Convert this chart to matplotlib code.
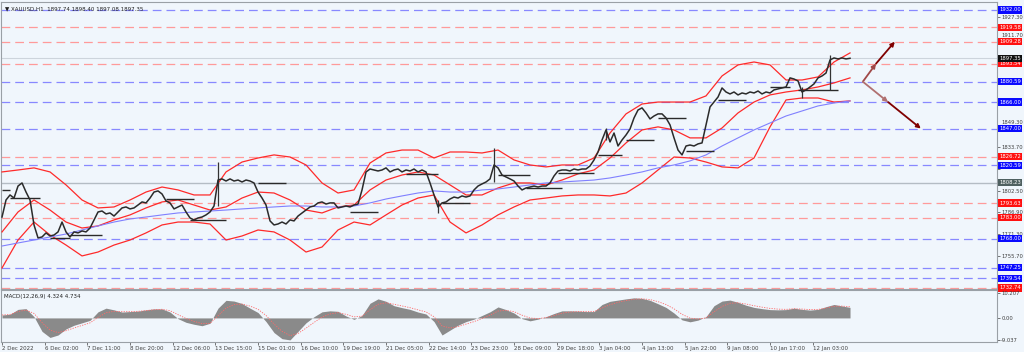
import numpy as np
import pandas as pd
import matplotlib
matplotlib.use('Agg')
import matplotlib.pyplot as plt
from matplotlib.transforms import blended_transform_factory

# closes, one value about every 3 H1 bars
close = [1783.6, 1795.8, 1799.4, 1797.2, 1805.8, 1808.0, 1801.5, 1795.8, 1777.9, 1768.6,
         1769.3, 1772.2, 1770.0, 1770.7, 1772.9, 1780.0, 1772.9, 1769.3, 1772.9, 1772.2,
         1773.6, 1772.9, 1775.7, 1781.5, 1787.2, 1787.9, 1785.8, 1786.5, 1784.3, 1787.2,
         1790.1, 1790.8, 1789.4, 1790.1, 1792.2, 1794.4, 1793.7, 1797.2, 1801.5, 1802.3,
         1800.1, 1795.1, 1793.7, 1789.4, 1790.8, 1792.2, 1787.2, 1782.9, 1781.5, 1782.9,
         1783.6, 1785.1, 1787.2, 1791.5, 1810.1, 1810.9, 1809.4, 1810.9, 1809.4, 1810.1,
         1808.7, 1810.1, 1809.4, 1808.0, 1801.5, 1797.2, 1792.2, 1780.8, 1777.9, 1778.6,
         1780.0, 1778.6, 1781.5, 1780.8, 1784.3, 1786.5, 1788.6, 1790.8, 1791.5, 1793.7,
         1794.4, 1792.9, 1793.7, 1793.7, 1790.1, 1790.8, 1791.5, 1790.8, 1792.2, 1792.9,
         1803.0, 1815.9, 1818.0, 1817.3, 1816.6, 1817.3, 1818.8, 1815.9, 1817.3, 1818.0,
         1815.9, 1817.3, 1816.6, 1818.0, 1815.9, 1817.3, 1815.9, 1808.0, 1799.4, 1790.8,
         1793.7, 1794.4, 1796.5, 1797.9, 1797.2, 1798.7, 1797.9, 1798.7, 1803.0, 1805.8,
         1807.3, 1808.7, 1810.9, 1820.9, 1818.8, 1813.7, 1812.3, 1810.9, 1809.4, 1805.8,
         1803.0, 1804.4, 1805.1, 1805.8, 1805.1, 1805.8, 1805.8, 1808.0, 1813.0, 1816.6,
         1817.3, 1817.3, 1816.6, 1818.0, 1817.3, 1818.0, 1818.0, 1820.2, 1824.5, 1830.2,
         1838.8, 1846.0, 1837.4, 1843.8, 1834.5, 1838.8, 1842.4, 1846.7, 1854.6, 1860.3,
         1861.8, 1858.2, 1853.9, 1856.0, 1857.5, 1857.5, 1854.6, 1849.6, 1840.3, 1831.6,
         1828.1, 1834.5, 1835.2, 1834.5, 1836.0, 1836.7, 1849.6, 1862.5, 1866.0, 1869.6,
         1876.1, 1873.2, 1871.8, 1873.2, 1871.1, 1872.5, 1871.8, 1873.2, 1872.5, 1873.9,
         1871.8, 1873.2, 1872.5, 1874.7, 1875.4, 1876.1, 1876.8, 1883.3, 1882.5, 1881.1,
         1873.2, 1874.7, 1876.8, 1879.0, 1883.3, 1884.7, 1886.8, 1896.2, 1897.6, 1896.9,
         1897.6, 1896.9, 1897.35]

# long candle wicks
wick_idx = [54, 109, 123, 151, 200, 207]
wick_lo = [1791.5, 1786.5, 1808.7, 1838.8, 1868.9, 1874.7]
wick_hi = [1823.0, 1796.0, 1833.1, 1847.4, 1876.8, 1899.7]

# bollinger bands and slow MA, one value every 4 closes
bb_upper = [1815.9, 1817.3, 1818.8, 1815.9, 1806.6, 1795.8, 1790.1, 1790.8, 1795.8, 1801.5,
            1805.1, 1803.0, 1799.4, 1799.4, 1815.9, 1823.0, 1825.9, 1828.1, 1826.6, 1820.9,
            1808.0, 1800.8, 1803.0, 1822.3, 1829.5, 1831.6, 1831.6, 1825.9, 1830.2, 1830.2,
            1829.5, 1831.6, 1824.5, 1820.9, 1819.5, 1820.9, 1820.9, 1825.9, 1843.8, 1857.5,
            1864.6, 1866.0, 1866.0, 1866.0, 1870.4, 1884.7, 1892.6, 1894.7, 1892.6, 1881.8,
            1881.8, 1884.0, 1894.7, 1901.2]
bb_mid = [1772.9, 1787.2, 1795.8, 1788.6, 1780.0, 1775.7, 1777.2, 1781.5, 1785.1, 1790.1,
          1794.4, 1795.8, 1792.2, 1788.6, 1790.8, 1797.2, 1801.5, 1800.8, 1795.8, 1788.6,
          1786.5, 1790.8, 1792.2, 1803.0, 1810.1, 1813.7, 1815.9, 1813.7, 1806.6, 1799.4,
          1799.4, 1804.4, 1808.0, 1808.0, 1806.6, 1810.1, 1814.5, 1817.3, 1825.9, 1836.7,
          1846.0, 1848.2, 1846.0, 1840.3, 1840.3, 1847.4, 1858.2, 1866.0, 1871.1, 1873.2,
          1874.7, 1876.8, 1879.7, 1883.3]
bb_lower = [1747.1, 1767.1, 1780.0, 1770.7, 1763.5, 1755.7, 1758.5, 1763.5, 1767.1, 1772.2,
            1777.9, 1780.0, 1780.0, 1778.6, 1767.1, 1770.0, 1774.3, 1772.9, 1767.1, 1758.5,
            1762.1, 1774.3, 1780.0, 1777.9, 1785.1, 1792.2, 1797.2, 1799.4, 1780.0, 1772.2,
            1777.9, 1785.1, 1790.8, 1795.8, 1797.2, 1798.7, 1799.4, 1799.4, 1798.7, 1800.8,
            1808.0, 1817.3, 1826.6, 1825.9, 1823.0, 1819.5, 1818.8, 1825.9, 1848.2, 1867.5,
            1868.9, 1868.9, 1866.0, 1866.8]
ma_slow = [1762.8, 1765.0, 1767.1, 1769.3, 1771.4, 1774.3, 1777.2, 1780.0, 1782.2, 1783.6,
           1785.1, 1786.5, 1787.2, 1787.9, 1788.6, 1789.4, 1790.1, 1790.8, 1791.5, 1791.5,
           1790.8, 1790.8, 1791.5, 1793.7, 1796.5, 1798.7, 1800.8, 1802.3, 1801.5, 1801.5,
           1803.0, 1803.7, 1805.1, 1806.6, 1808.0, 1808.7, 1809.4, 1810.1, 1811.6, 1813.7,
           1815.9, 1818.8, 1820.9, 1823.8, 1828.1, 1834.5, 1840.3, 1846.0, 1851.0, 1856.0,
           1859.6, 1863.2, 1865.3, 1866.8]

# support / resistance segments (start, end in close index)
seg_start = [0, 2, 12, 17, 41, 47, 64, 87, 101, 110, 124, 131, 139, 149, 156, 164, 171, 179, 192, 199]
seg_end = [2, 9.5, 17, 25, 48, 56, 71, 94, 109, 117, 132, 140, 148, 155, 163, 171, 178, 186, 197, 209]
seg_price = [1803.0, 1797.2, 1768.6, 1770.7, 1796.5, 1781.5, 1808.0, 1787.2, 1814.5, 1793.7,
             1813.7, 1804.4, 1815.2, 1828.1, 1838.8, 1854.6, 1830.9, 1867.5, 1876.8, 1874.7]

# MACD main, one value every 2 closes
macd = [1.2, 1.5, 3.5, 3.8, 0.5, -5.5, -8.0, -7.0, -4.5, -3.0,
        -2.0, -1.0, 2.5, 4.0, 3.3, 2.4, 2.6, 2.8, 3.3, 3.7,
        3.7, 2.4, -0.3, -1.8, -2.6, -3.2, -2.2, 4.0, 7.2, 6.9,
        5.9, 4.0, 2.2, -1.5, -6.0, -8.5, -9.0, -5.5, -2.0, 0.5,
        2.5, 2.9, 2.7, 0.8, -0.6, 1.0, 6.0, 7.8, 6.8, 5.0,
        4.2, 3.5, 2.4, 1.6, -1.5, -7.0, -5.0, -3.0, -1.5, -0.5,
        1.0, 2.5, 4.5, 3.4, 2.0, -0.3, -1.2, -0.5, 0.5, 1.8,
        2.9, 2.9, 2.8, 2.6, 2.6, 5.5, 6.8, 7.3, 7.8, 8.2,
        8.0, 7.2, 5.8, 4.3, 2.0, -0.8, -1.6, -0.9, 0.5, 5.0,
        6.9, 7.3, 6.4, 5.2, 4.3, 3.8, 3.4, 3.3, 3.4, 4.0,
        3.5, 3.2, 3.5, 4.6, 5.5, 4.9, 4.3]

blue_levels = [1932.00, 1880.59, 1866.00, 1847.00, 1820.59, 1768.00, 1747.25, 1739.54]
red_levels = [1919.58, 1909.28, 1893.54, 1826.72, 1793.63, 1783.00, 1732.74]
pivot_level = 1808.23
last_price = 1897.35
scale_ticks = [1927.30, 1911.70, 1896.10, 1880.50, 1864.90, 1849.30, 1833.70, 1818.10,
               1802.50, 1786.90, 1771.30, 1755.70, 1740.10]
# scale labels hidden behind the level boxes in the terminal
hidden_ticks = [1896.10, 1880.50, 1864.90, 1818.10, 1740.10]
# scale labels that sit just above a level box
raised_ticks = ['1911.70', '1849.30']

time_labels = ['2 Dec 2022', '6 Dec 02:00', '7 Dec 11:00', '8 Dec 20:00', '12 Dec 06:00',
               '13 Dec 15:00', '15 Dec 01:00', '16 Dec 10:00', '19 Dec 19:00', '21 Dec 05:00',
               '22 Dec 14:00', '23 Dec 23:00', '28 Dec 09:00', '29 Dec 18:00', '3 Jan 04:00',
               '4 Jan 13:00', '5 Jan 22:00', '9 Jan 08:00', '10 Jan 17:00', '12 Jan 03:00']

# projected paths (close index, price)
arrow_x0 = [215.2, 218.5, 215.2, 221.5]
arrow_p0 = [1880.59, 1893.54, 1880.59, 1866.00]
arrow_x1 = [218.5, 223.2, 221.5, 229.7]
arrow_p1 = [1893.54, 1909.28, 1866.00, 1847.00]
arrow_col = ['#a04848', '#800000', '#b07070', '#800000']

BG = '#f0f6fc'
BARS_PER_LABEL = 33 / 3.094   # one close every ~3.1 H1 bars

fig = plt.figure(figsize=(10.24, 3.52), dpi=100, facecolor=BG)
ax = fig.add_axes([0.001, 63 / 352, 996 / 1024, 287 / 352], facecolor=BG)
ax2 = fig.add_axes([0.001, 10 / 352, 996 / 1024, 52 / 352], facecolor=BG, sharex=ax)

x = np.arange(len(close))
xb = np.arange(len(bb_upper)) * 4
xm = np.arange(len(macd)) * 2

for lv in blue_levels:
    ax.axhline(lv, color='#8888ff', lw=0.9, ls=(0, (7, 4)), zorder=1)
for lv in red_levels:
    ax.axhline(lv, color='#ff9a9a', lw=0.9, ls=(0, (7, 4)), zorder=1)
ax.axhline(pivot_level, color='#b4bcc4', lw=1.0, zorder=1)
ax.axhline(last_price, color='#cdd4dc', lw=0.8, zorder=1)

ax.plot(xb, bb_upper, color='#ff2a2a', lw=0.9, zorder=3)
ax.plot(xb, bb_mid, color='#ff2a2a', lw=0.9, zorder=3)
ax.plot(xb, bb_lower, color='#ff2a2a', lw=0.9, zorder=3)
ax.plot(xb, ma_slow, color='#8080ff', lw=0.8, zorder=3)

ax.hlines(seg_price, seg_start, seg_end, color='#2a2a2a', lw=1.0, zorder=4)
ax.vlines(wick_idx, wick_lo, wick_hi, color='#333333', lw=0.9, zorder=4)
ax.plot(x, close, color='#2b2b2b', lw=1.1, zorder=5)

for i in range(len(arrow_x0)):
    ax.annotate('', xy=(arrow_x1[i], arrow_p1[i]), xytext=(arrow_x0[i], arrow_p0[i]),
                arrowprops=dict(arrowstyle='-|>', color=arrow_col[i], lw=1.3,
                                mutation_scale=6, shrinkA=0, shrinkB=0), zorder=6)

ax.set_xlim(-0.25, 248.75)
ax.set_ylim(1732.0, 1937.7)
ax.yaxis.tick_right()
ax.set_yticks(scale_ticks)
ax.set_yticklabels(['' if v in hidden_ticks else f'{v:.2f}' for v in scale_ticks])
ax.tick_params(axis='y', labelsize=3.8, colors='#404040', length=2, width=0.5, pad=1)
ax.tick_params(axis='x', bottom=False, labelbottom=False)
for lbl in ax.get_yticklabels():
    if lbl.get_text() in raised_ticks:
        lbl.set_verticalalignment('bottom')
for s in ax.spines.values():
    s.set_color('#9aa0a6')
    s.set_linewidth(0.8)

trans = blended_transform_factory(ax.transAxes, ax.transData)


def price_box(p, fc):
    ax.text(1.0025, p, f'{p:.2f}', transform=trans, fontsize=3.8, color='white',
            ha='left', va='center', clip_on=False, zorder=10,
            bbox=dict(boxstyle='square,pad=0.2', fc=fc, ec='none'))


for lv in blue_levels:
    price_box(lv, '#0a0aff')
for lv in red_levels:
    price_box(lv, '#ff1010')
price_box(pivot_level, '#4f6060')
price_box(last_price, '#111111')

ax.text(0.004, 0.985, '\u25bc XAUUSD,H1  1897.74 1898.40 1897.08 1897.35', transform=ax.transAxes,
        fontsize=4, color='#202020', ha='left', va='top')

# MACD panel
ax2.fill_between(xm, 0, macd, color='#8a8a8a', lw=0, zorder=2)
signal = pd.Series(macd).ewm(span=3).mean()
ax2.plot(xm, signal, color='#ff6a6a', lw=0.6, ls=(0, (1.5, 1.5)), zorder=3)
ax2.set_ylim(-9.86, 11.43)
ax2.yaxis.tick_right()
ax2.set_yticks([10.207, 0.0, -9.037])
ax2.set_yticklabels(['10.207', '0.00', '-9.037'])
ax2.tick_params(axis='y', labelsize=3.8, colors='#404040', length=2, width=0.5, pad=1)
ticks = np.arange(len(time_labels)) * BARS_PER_LABEL
ax2.set_xticks(ticks)
ax2.set_xticklabels(time_labels)
for lbl in ax2.get_xticklabels():
    lbl.set_horizontalalignment('left')
ax2.tick_params(axis='x', labelsize=4, colors='#404040', length=2, width=0.5, pad=1)
for s in ax2.spines.values():
    s.set_color('#9aa0a6')
    s.set_linewidth(0.8)
ax2.text(0.003, 0.93, 'MACD(12,26,9) 4.324 4.734', transform=ax2.transAxes,
         fontsize=4, color='#202020', ha='left', va='top')

fig.savefig('out.png', dpi=100, facecolor=BG)
